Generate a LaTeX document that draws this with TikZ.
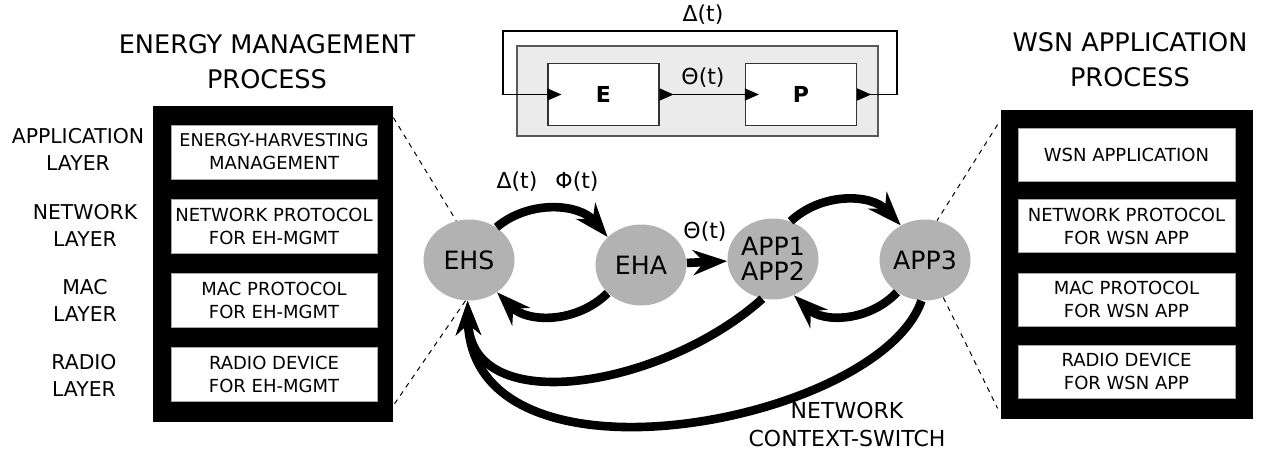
\documentclass[tikz,border=0pt]{standalone}
\usepackage{fontspec}
\setmainfont{DejaVu Sans}
\usetikzlibrary{arrows.meta}
\usetikzlibrary{shapes.geometric}

\begin{document}
\begin{tikzpicture}[x=0.5pt, y=0.5pt,
    state/.style={ellipse, fill=black!30, inner sep=0pt,
      minimum width=45.5pt, minimum height=40.5pt,
      align=center, font=\fontsize{12.6}{12.5}\selectfont},
    layerbox/.style={fill=white, draw=black!35, line width=0.4pt, inner sep=0pt,
      align=center, font=\fontsize{9}{11.5}\selectfont},
    layername/.style={align=center, font=\fontsize{10.2}{13.5}\selectfont},
    title/.style={align=center, font=\fontsize{12.8}{17.5}\selectfont},
    lbl/.style={font=\fontsize{11}{14}\selectfont},
    block/.style={draw=black!80, fill=white, line width=0.6pt,
      minimum width=55.5pt, minimum height=31pt,
      font=\bfseries\fontsize{11}{13}\selectfont},
    signal/.style={line width=0.6pt, shorten >=-7pt,
      {Triangle[reversed,length=7pt,width=6pt]}-{Triangle[length=7pt,width=6pt]}},
    flow/.style={line width=4.3pt, -{Stealth[length=17pt,width=12.5pt,inset=5.5pt]}},
    zoomline/.style={line width=0.5pt, dash pattern=on 2.5pt off 2.5pt},
  ]
  \useasboundingbox (0,0) rectangle (1266,-451);

  % energy management stack
  \node[title] (emptitle) at (267,-61.5) {ENERGY MANAGEMENT\\PROCESS};
  \node[fill=black, inner sep=0pt, minimum width=120pt, minimum height=158pt] (emp) at (273,-264) {};
  \node[layerbox, minimum width=103pt, minimum height=27pt] (ehapp) at (274,-152)
    {{\fontsize{8.8}{11.5}\selectfont ENERGY-HARVESTING}\\MANAGEMENT};
  \node[layerbox, minimum width=103pt, minimum height=27pt] (ehnet) at (274,-226) {NETWORK PROTOCOL\\FOR EH-MGMT};
  \node[layerbox, minimum width=103pt, minimum height=27pt] (ehmac) at (274,-300.5) {MAC PROTOCOL\\FOR EH-MGMT};
  \node[layerbox, minimum width=103pt, minimum height=27pt] (ehradio) at (274,-374) {RADIO DEVICE\\FOR EH-MGMT};

  \node[layername] (lapp) at (78,-149.5) {APPLICATION\\LAYER};
  \node[layername] (lnet) at (85,-225.5) {NETWORK\\LAYER};
  \node[layername] (lmac) at (85,-300) {MAC\\LAYER};
  \node[layername] (lradio) at (84,-375) {RADIO\\LAYER};

  % wsn application stack
  \node[title] (wsntitle) at (1130,-60) {WSN APPLICATION\\PROCESS};
  \node[fill=black, inner sep=0pt, minimum width=126pt, minimum height=154.5pt] (wsn) at (1127,-264.5) {};
  \node[layerbox, minimum width=108.5pt, minimum height=26.5pt] (wsnapp) at (1126.5,-154.5) {WSN APPLICATION};
  \node[layerbox, minimum width=108.5pt, minimum height=26.5pt] (wsnnet) at (1126.5,-226) {NETWORK PROTOCOL\\FOR WSN APP};
  \node[layerbox, minimum width=108.5pt, minimum height=26.5pt] (wsnmac) at (1126.5,-299.5) {MAC PROTOCOL\\FOR WSN APP};
  \node[layerbox, minimum width=108.5pt, minimum height=26.5pt] (wsnradio) at (1126.5,-371.5) {RADIO DEVICE\\FOR WSN APP};

  % E / P loop
  \node[draw=black!65, fill=black!8, line width=0.6pt, minimum width=180.5pt, minimum height=45pt] (ctx) at (697.5,-91) {};
  \node[block] (E) at (603.5,-94.5) {E};
  \node[block] (P) at (801,-94.5) {P};
  \coordinate (fbr) at (897,-31);
  \coordinate (fbl) at (503,-31);
  \draw[signal] (E.east) -- (P.west);
  \draw[signal] (P.east) -| (fbr) -- (fbl) |- (E.west);
  \node[lbl] (delta) at (703,-15) {Δ(t)};
  \node[lbl] (theta) at (703,-78) {Θ(t)};

  % states
  \node[state] (EHS) at (469,-260) {EHS};
  \node[state] (EHA) at (641,-265) {EHA};
  \node[state] (APP12) at (773,-259) {APP1\\APP2};
  \node[state] (APP3) at (925,-260) {APP3};

  \draw[zoomline] ([yshift=-6pt]emp.north east) -- (EHS.108);
  \draw[zoomline] (EHS.265) -- ([yshift=8.5pt]emp.south east);
  \draw[zoomline] ([xshift=-1.5pt,yshift=-7.5pt]wsn.north west) -- (APP3.73);
  \draw[zoomline] (APP3.296) -- ([xshift=-1.5pt,yshift=5.5pt]wsn.south west);

  \draw[flow] (EHS.50) to[bend left=45] (EHA.140);
  \draw[flow] (EHA.220) to[bend left=45] (EHS.311);
  \draw[flow] (EHA) -- (APP12);
  \draw[flow] (APP12.65) to[bend left=45] (APP3.125);
  \draw[flow] (APP3.229) to[bend left=45] (APP12.300);
  \draw[flow] (APP12.255) .. controls +(-98,-88) and +(3,-120) .. (EHS.268);
  \draw[flow] (APP3.265) .. controls +(-42,-122) and +(5,-200) .. (EHS.268);

  \node[lbl] (dlbl) at (517,-182) {Δ(t)};
  \node[lbl] (flbl) at (577,-182) {Φ(t)};
  \node[lbl] (tlbl) at (705,-232) {Θ(t)};
  \node[lbl, align=center] (switch) at (847,-424) {NETWORK\\CONTEXT-SWITCH};

\end{tikzpicture}
\end{document}
